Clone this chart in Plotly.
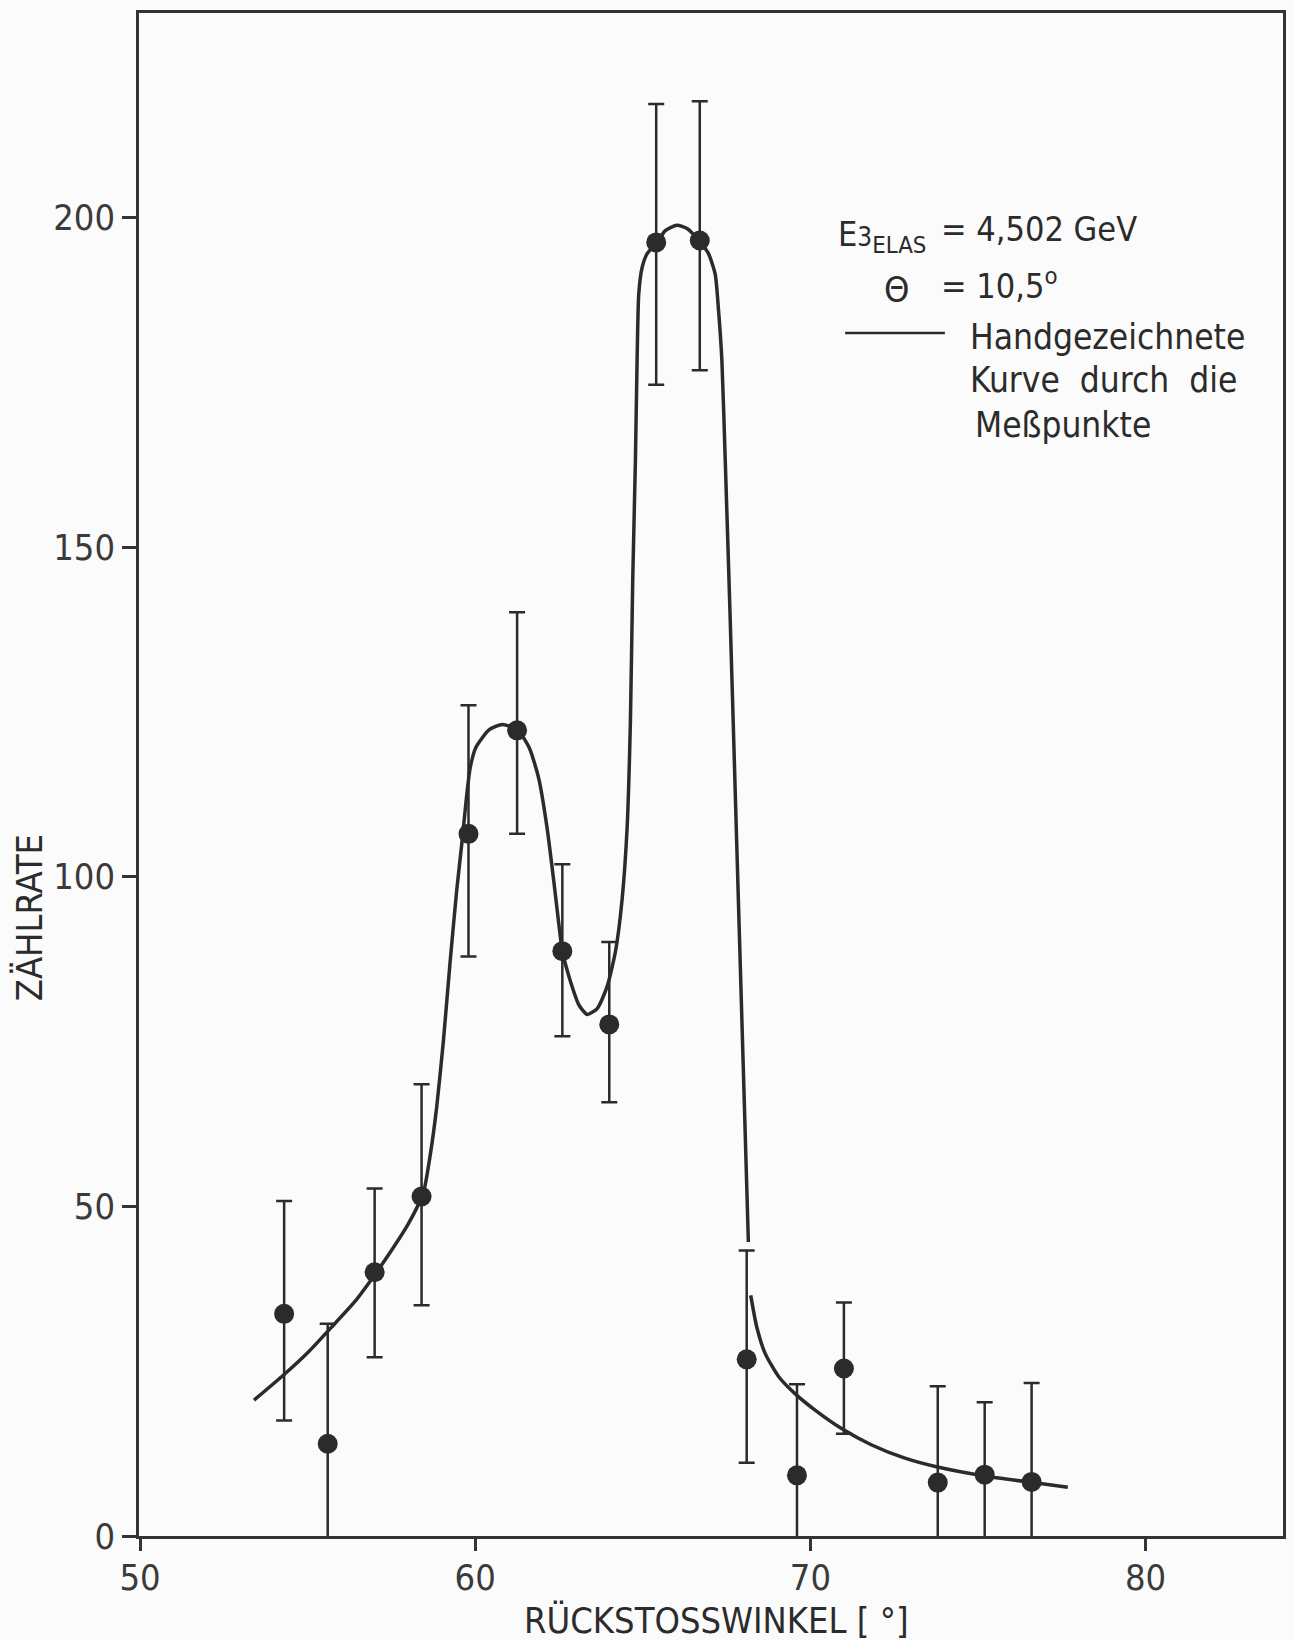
import plotly.graph_objects as go

# ---- data ----
angle = [54.3, 55.6, 57.0, 58.4, 59.8, 61.25, 62.6, 64.0, 65.4, 66.7, 68.1, 69.6, 71.0, 73.8, 75.2, 76.6]
rate = [33.7, 14.0, 40.0, 51.5, 106.5, 122.2, 88.7, 77.6, 196.2, 196.5, 26.8, 9.2, 25.4, 8.1, 9.3, 8.2]
err_plus = [17.1, 18.2, 12.7, 17.0, 19.5, 17.9, 13.2, 12.5, 21.0, 21.1, 16.5, 13.8, 10.0, 14.6, 11.0, 15.0]
err_minus = [16.2, 18.2, 12.9, 16.5, 18.6, 15.7, 12.9, 11.8, 21.6, 19.7, 15.7, 13.8, 9.9, 14.6, 11.0, 15.0]

# hand-drawn curve, first branch (rise, shoulder, dip, main peak, fall)
curve_a_x = [53.4, 54.3, 55.0, 55.7, 56.4, 57.0, 57.5, 58.0, 58.45, 58.65, 58.85, 59.05, 59.25,
             59.45, 59.6, 59.75, 59.85, 60.02, 60.42, 60.81, 61.26, 61.61, 61.9, 62.15, 62.35,
             62.5, 62.6, 62.85, 63.1, 63.34, 63.64, 63.94, 64.19, 64.38, 64.53, 64.63, 64.7,
             64.78, 64.83, 64.88, 64.98, 65.13, 65.43, 65.67, 66.02, 66.32, 66.67, 66.96, 67.16,
             67.26, 67.36, 67.46, 67.6, 67.8, 67.95, 68.1, 68.15]
curve_a_y = [20.6, 24.5, 27.8, 31.6, 35.5, 39.6, 43.3, 47.3, 52.0, 57.5, 65.0, 75.0, 87.0,
             98.0, 105.0, 112.5, 116.5, 119.6, 122.3, 123.1, 122.3, 119.6, 114.8, 107.2, 99.1,
             92.6, 88.7, 84.0, 80.5, 79.1, 80.0, 83.4, 88.8, 96.4, 107.2, 123.4, 145.0,
             163.1, 178.3, 188.4, 192.4, 194.5, 196.2, 198.0, 198.8, 198.3, 196.5, 194.5, 191.4,
             185.9, 178.3, 163.1, 140.4, 105.5, 79.4, 53.3, 44.6]
# second branch (tail)
curve_b_x = [68.22, 68.4, 68.65, 69.05, 69.54, 70.14, 70.93, 71.83, 72.82, 73.76, 75.2, 76.64, 77.68]
curve_b_y = [36.5, 31.7, 27.7, 24.2, 21.6, 19.1, 16.3, 13.8, 11.8, 10.5, 9.1, 8.1, 7.4]

x_ticks = [50, 60, 70, 80]
y_ticks = [0, 50, 100, 150, 200]

INK = "#2b2b2b"
FONT = "Liberation Sans Narrow, DejaVu Sans Condensed, Arial Narrow, sans-serif"

fig = go.Figure()
for cx, cy in ((curve_a_x, curve_a_y), (curve_b_x, curve_b_y)):
    fig.add_trace(go.Scatter(
        x=cx, y=cy, mode="lines",
        line=dict(color=INK, width=3.5, shape="spline", smoothing=0.6),
        showlegend=False, hoverinfo="skip"))

fig.add_trace(go.Scatter(
    x=angle, y=rate, mode="markers",
    marker=dict(color=INK, size=20),
    error_y=dict(type="data", symmetric=False, array=err_plus, arrayminus=err_minus,
                 color=INK, thickness=2.5, width=8),
    showlegend=False))

axis_common = dict(showgrid=False, zeroline=False, showline=True, linecolor="#333333",
                   linewidth=2.5, mirror=True, ticks="outside", tickcolor="#333333",
                   tickwidth=2.5, tickfont=dict(family=FONT, size=36, color="#3a3a3a"))

fig.update_xaxes(range=[49.97, 84.1], tickvals=x_ticks, ticklen=12,
                 ticklabelstandoff=-4, **axis_common)
fig.update_yaxes(range=[0, 231], tickvals=y_ticks, ticklen=14, **axis_common)

def px_x(X):
    return (X - 139) / 1147.0

def px_y(Y):
    return (1536 - Y) / 1523.0

txt = dict(family=FONT, color="#2b2b2b")
ann = [
    dict(text="ZÄHLRATE", x=px_x(29), y=px_y(918), textangle=-90,
         font=dict(size=36, **txt)),
    dict(text="RÜCKSTOSSWINKEL [ °]", x=px_x(718), y=px_y(1620),
         font=dict(size=36, **txt)),
    dict(text="E<span style='font-size:26px'>3</span><sub>ELAS</sub>", x=px_x(838), y=px_y(236),
         xanchor="left", font=dict(size=34, **txt)),
    dict(text="= 4,502 GeV", x=px_x(941), y=px_y(229), xanchor="left",
         font=dict(size=34, **txt)),
    dict(text="Θ", x=px_x(884), y=px_y(290), xanchor="left",
         font=dict(size=36, **txt)),
    dict(text="= 10,5<sup>o</sup>", x=px_x(941), y=px_y(284), xanchor="left",
         font=dict(size=34, **txt)),
    dict(text="Handgezeichnete", x=px_x(970), y=px_y(337), xanchor="left",
         font=dict(size=35, **txt)),
    dict(text="Kurve  durch  die", x=px_x(970), y=px_y(380), xanchor="left",
         font=dict(size=35, **txt)),
    dict(text="Meßpunkte", x=px_x(975), y=px_y(425), xanchor="left",
         font=dict(size=35, **txt)),
]
for a in ann:
    a.update(xref="paper", yref="paper", showarrow=False)
    a.setdefault("xanchor", "center")
    a.setdefault("yanchor", "middle")

fig.update_layout(
    width=1294, height=1640,
    margin=dict(l=139, r=8, t=13, b=104),
    paper_bgcolor="#fbfbfb", plot_bgcolor="#fbfbfb",
    annotations=ann,
    shapes=[dict(type="line", xref="paper", yref="paper",
                 x0=px_x(847), x1=px_x(947), y0=px_y(333), y1=px_y(333),
                 line=dict(color=INK, width=2.5))],
)

fig.write_html("out.html")
